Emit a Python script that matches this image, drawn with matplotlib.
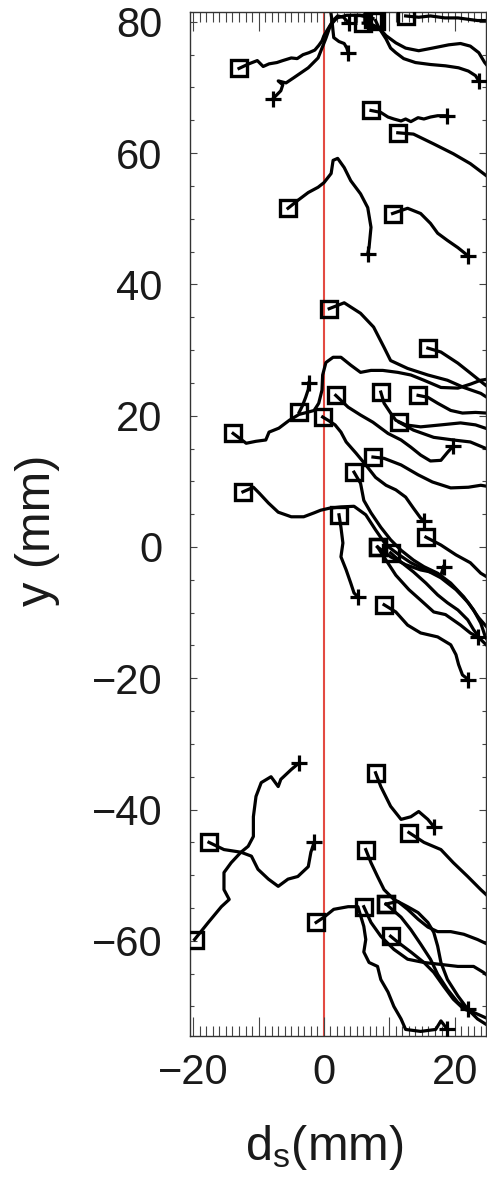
import matplotlib
matplotlib.use('Agg')
import matplotlib.pyplot as plt
from matplotlib.ticker import MultipleLocator, FuncFormatter

plt.rcParams['font.family'] = ['Liberation Sans', 'DejaVu Sans']
plt.rcParams['mathtext.fontset'] = 'custom'
plt.rcParams['mathtext.rm'] = 'Liberation Sans'
plt.rcParams['mathtext.it'] = 'Liberation Sans:italic'

# trajectories (d_s, y) in mm: start = square, end = plus
t01 = [(-13.0, 72.9), (-11.5, 73.6), (-10.2, 74.1), (-9.3, 73.2), (-8.4, 73.6), (-7.2, 73.8),
       (-6.3, 74.1), (-5.0, 74.5), (-4.1, 74.4), (-3.2, 75.0), (-2.3, 75.3), (-1.4, 75.7),
       (-0.8, 76.4), (-0.3, 77.1), (0.0, 77.9), (0.6, 78.9), (1.4, 80.2), (2.1, 80.9),
       (3.0, 80.7), (3.8, 79.8)]
t02 = [(7.5, 80.5), (5.5, 81.0), (3.5, 81.0), (2.0, 80.6), (1.0, 79.5), (0.3, 77.5),
       (-0.3, 76.0), (-0.9, 74.5), (-2.4, 73.0), (-4.6, 71.5), (-5.8, 70.7), (-7.0, 71.0),
       (-6.3, 70.4), (-6.6, 69.5), (-7.8, 68.3)]
t03 = [(0.8, 83.0), (1.2, 80.5), (1.4, 78.5), (1.5, 77.6), (2.3, 77.0), (3.1, 76.7),
       (3.5, 76.0), (3.7, 75.3)]
t04 = [(6.0, 79.8), (6.9, 79.8), (8.4, 79.1), (9.5, 77.4), (10.2, 76.0), (11.0, 75.3),
       (12.2, 74.4), (14.0, 73.8), (16.3, 73.5), (18.6, 73.3), (20.6, 73.0), (22.1, 72.5),
       (23.2, 71.8), (23.7, 71.0)]
t05 = [(7.9, 80.2), (8.4, 79.1), (9.5, 77.9), (11.0, 76.8), (12.5, 76.0), (14.5, 75.6),
       (16.6, 76.0), (19.1, 76.5), (20.9, 76.7), (22.4, 76.3), (23.7, 75.3), (24.6, 73.8),
       (26.5, 71.5)]
t06 = [(12.5, 80.9), (14.5, 80.7), (16.3, 80.9), (18.5, 80.6), (20.5, 80.6), (23.5, 80.2),
       (26.5, 80.2)]
t07 = [(7.2, 66.5), (8.7, 66.2), (9.8, 65.5), (10.7, 65.2), (11.8, 64.9), (12.5, 65.2),
       (13.3, 64.8), (14.4, 65.4), (15.3, 65.2), (16.3, 65.5), (17.4, 65.7), (18.9, 65.7)]
t08 = [(11.3, 63.1), (13.7, 62.9), (16.8, 61.4), (19.8, 59.9), (22.4, 58.4), (24.4, 56.9),
       (26.5, 55.3)]
t09 = [(-5.5, 51.6), (-4.0, 52.8), (-2.4, 54.0), (-0.9, 54.8), (0.0, 55.5), (1.1, 56.9),
       (1.4, 58.9), (2.1, 59.2), (3.1, 57.8), (4.1, 55.8), (5.6, 53.8), (6.7, 51.7),
       (7.2, 48.7), (6.9, 45.6), (6.7, 44.7)]
t10 = [(10.5, 50.8), (12.8, 51.6), (14.8, 50.8), (16.3, 49.3), (17.4, 47.8), (18.9, 46.7),
       (20.5, 45.6), (22.0, 44.4)]
t11 = [(0.8, 36.3), (3.1, 37.2), (5.6, 35.6), (7.6, 33.5), (9.2, 30.4), (10.2, 28.4),
       (12.8, 27.2), (15.9, 26.2), (18.9, 25.4), (21.4, 24.3), (24.0, 23.4), (26.5, 21.8)]
t12 = [(15.9, 30.3), (17.9, 29.7), (20.5, 28.0), (22.4, 26.5), (24.4, 24.9), (26.5, 23.3)]
t13 = [(-13.9, 17.3), (-11.9, 15.8), (-10.4, 16.1), (-8.9, 16.3), (-8.4, 17.5), (-6.9, 18.1),
       (-5.3, 19.3), (-3.8, 20.2), (-2.6, 20.5), (-1.5, 20.8), (-0.8, 21.9), (-0.3, 23.9),
       (-0.2, 26.2), (0.3, 28.1), (1.4, 28.9), (2.6, 28.9), (4.1, 27.7), (5.6, 26.6),
       (7.2, 26.9), (9.0, 26.9), (11.3, 26.6), (13.3, 26.2), (15.3, 25.4), (17.9, 24.3),
       (20.5, 24.2), (22.4, 24.8), (24.0, 25.4), (26.5, 25.8)]
t14 = [(-3.8, 20.5), (-3.3, 21.5), (-2.8, 22.8), (-2.4, 24.0), (-2.3, 25.0)]
t15 = [(4.6, 11.4), (5.6, 9.7), (6.1, 7.1), (7.2, 5.2), (8.7, 3.0), (10.2, 1.1), (11.8, -0.5),
       (13.7, -2.0), (15.3, -3.0), (17.4, -4.0), (19.4, -5.5), (21.4, -7.6), (22.9, -9.6),
       (24.0, -11.6), (24.7, -13.7), (26.5, -16.5)]
t16 = [(7.5, 13.7), (9.2, 13.5), (11.8, 12.5), (14.4, 11.0), (16.6, 9.9), (19.4, 9.0),
       (22.1, 9.1), (24.0, 9.4), (26.5, 9.0)]
t17 = [(1.8, 23.1), (3.7, 21.3), (5.6, 20.1), (7.5, 19.0), (9.8, 17.3), (11.8, 16.3),
       (13.3, 15.2), (14.8, 14.0), (16.3, 13.1), (17.9, 13.2), (18.9, 14.4), (19.8, 15.4)]
t18 = [(8.7, 23.6), (9.2, 21.9), (10.2, 20.4), (11.0, 19.3), (12.5, 18.6), (14.8, 18.3),
       (17.9, 18.6), (20.9, 18.9), (23.2, 18.6), (26.5, 17.5)]
t19 = [(14.4, 23.1), (15.9, 22.8), (17.4, 21.9), (19.4, 20.8), (21.2, 20.4), (23.2, 20.5),
       (26.5, 20.3)]
t20 = [(11.5, 19.0), (13.7, 17.8), (16.8, 16.7), (19.8, 16.3), (22.4, 16.0), (26.5, 14.3)]
t21 = [(-12.4, 8.4), (-10.8, 9.1), (-9.9, 8.2), (-8.5, 6.7), (-7.0, 5.3), (-5.0, 4.6),
       (-3.1, 4.6), (-1.5, 5.2), (-0.5, 5.6), (0.8, 5.9), (2.6, 6.1), (4.6, 6.2), (6.4, 4.9),
       (7.9, 2.6), (9.5, 0.3), (11.5, -1.2), (13.3, -2.4), (15.6, -3.5), (17.9, -4.7),
       (20.2, -6.5), (22.1, -8.5), (23.7, -10.8), (26.5, -14.0)]
t22 = [(2.3, 4.9), (2.6, 3.0), (2.9, 0.6), (2.6, -1.5), (3.4, -3.5), (4.1, -5.5), (4.6, -7.0),
       (5.2, -7.6)]
t23 = [(-0.2, 19.8), (0.8, 19.2), (1.7, 18.6), (2.6, 17.5), (3.4, 16.0), (4.9, 14.3),
       (6.4, 12.5), (7.9, 10.6), (9.5, 9.4), (11.0, 8.7), (12.5, 7.6), (13.7, 5.9),
       (14.8, 4.4), (15.3, 4.0)]
t24 = [(15.6, 1.5), (17.9, 0.3), (20.2, -1.2), (22.4, -2.4), (24.0, -4.0), (26.5, -5.5)]
t25 = [(8.2, 0.0), (10.2, -1.5), (12.5, -2.7), (14.8, -3.5), (16.3, -3.8), (17.9, -4.3),
       (18.3, -3.0)]
t26 = [(10.2, -0.9), (11.8, -2.3), (13.7, -3.8), (15.6, -5.5), (17.4, -7.3), (18.9, -8.5),
       (20.5, -9.6), (22.0, -11.1), (22.9, -12.6), (24.0, -14.1), (26.5, -16.5)]
t27 = [(8.2, 0.0), (9.5, -2.0), (11.0, -4.3), (13.0, -6.5), (14.8, -8.1), (16.8, -9.9),
       (18.6, -10.3), (20.9, -11.9), (22.4, -13.1), (23.5, -13.7)]
t28 = [(9.2, -8.8), (11.0, -9.9), (12.8, -11.9), (14.8, -13.1), (17.4, -13.7), (19.4, -14.9),
       (20.2, -16.4), (20.6, -17.9), (21.2, -19.5), (22.1, -20.2)]
t29 = [(-19.8, -59.8), (-17.7, -57.2), (-15.7, -54.8), (-14.5, -53.7), (-15.3, -52.2),
       (-15.3, -49.6), (-14.2, -48.1), (-12.7, -46.5), (-11.6, -45.6), (-10.8, -44.1),
       (-10.8, -41.1), (-10.4, -38.0), (-9.6, -35.9), (-8.1, -35.0), (-7.0, -36.5),
       (-6.6, -35.4), (-5.0, -33.9), (-3.8, -32.9)]
t30 = [(-17.6, -45.0), (-15.3, -46.1), (-12.7, -46.5), (-11.1, -47.1), (-10.1, -49.1),
       (-8.5, -50.6), (-7.0, -51.7), (-5.5, -50.6), (-4.0, -50.2), (-2.4, -48.7),
       (-2.0, -46.5), (-1.5, -45.0)]
t31 = [(7.9, -34.4), (8.7, -36.5), (10.2, -39.5), (11.8, -41.5), (13.3, -41.1), (14.5, -40.3),
       (15.9, -41.5), (16.8, -42.6)]
t32 = [(13.0, -43.5), (15.3, -45.0), (17.9, -46.1), (19.8, -48.1), (22.0, -50.2),
       (24.0, -52.2), (26.5, -54.5)]
t33 = [(6.4, -46.1), (7.2, -48.1), (8.2, -50.2), (9.2, -52.2), (10.7, -53.7), (12.8, -54.8),
       (14.4, -55.7), (15.9, -57.2), (16.8, -58.7), (17.4, -60.8), (17.9, -63.3),
       (18.9, -65.9), (20.5, -68.4), (22.0, -70.4), (23.5, -71.9), (26.5, -73.8)]
t34 = [(-1.2, -57.2), (0.0, -56.4), (1.5, -55.2), (3.7, -54.8), (5.2, -54.8), (6.1, -57.8),
       (6.4, -59.8), (6.1, -61.7), (6.9, -63.3), (8.2, -63.9), (8.7, -65.9), (9.8, -67.8),
       (10.7, -70.0), (11.8, -71.9), (12.5, -73.5), (14.8, -73.8), (17.1, -73.5),
       (17.9, -72.2), (18.9, -73.5)]
t35 = [(6.1, -54.8), (7.2, -57.2), (8.7, -59.3), (10.7, -61.3), (12.8, -62.8), (15.3, -63.3),
       (17.9, -63.6), (20.5, -63.9), (22.9, -63.9), (24.4, -64.8), (26.5, -66.5)]
t36 = [(9.5, -54.4), (11.3, -54.0), (12.8, -55.2), (14.4, -56.7), (15.9, -57.9), (17.4, -58.6),
       (19.4, -58.6), (21.4, -59.0), (23.5, -59.8), (26.5, -61.2)]
t37 = [(9.5, -54.4), (11.8, -56.4), (13.3, -58.3), (14.8, -60.5), (16.3, -62.8), (17.4, -65.1),
       (18.9, -67.4), (20.5, -69.4), (22.0, -70.4)]
t38 = [(10.2, -59.3), (11.3, -60.2), (13.3, -61.7), (15.3, -63.3), (16.8, -64.8), (18.3, -66.9),
       (19.8, -68.9), (21.4, -70.4), (22.9, -70.9), (26.5, -72.5)]

tracks = [t01, t02, t03, t04, t05, t06, t07, t08, t09, t10, t11, t12, t13, t14, t15, t16,
          t17, t18, t19, t20, t21, t22, t23, t24, t25, t26, t27, t28, t29, t30, t31, t32,
          t33, t34, t35, t36, t37, t38]

x_ticks = [-20, 0, 20]
y_ticks = [-60, -40, -20, 0, 20, 40, 60, 80]

W, H = 487, 1178
fig = plt.figure(figsize=(W / 100, H / 100), dpi=100)
ax = fig.add_axes([190 / W, 1 - 1036 / H, 296 / W, 1024 / H])

ax.axvline(0, color='#e34a42', lw=1.5, zorder=1)

for tr in tracks:
    xs = [p[0] for p in tr]
    ys = [p[1] for p in tr]
    ax.plot(xs, ys, color='black', lw=2.3, zorder=2, solid_joinstyle='round')
    ax.plot(xs[0], ys[0], marker='s', ms=11.5, mfc='none', mec='black', mew=2.4, zorder=3)
    ax.plot(xs[-1], ys[-1], marker='+', ms=11, mec='black', mew=2.3, zorder=3)

ax.set_xlim(-20.5, 24.8)
ax.set_ylim(-74.5, 81.5)


def fmt(v, pos, shown):
    if round(v) in shown:
        return f'{v:.0f}'.replace('-', '\u2212')
    return ''


ax.xaxis.set_major_locator(MultipleLocator(10))
ax.xaxis.set_minor_locator(MultipleLocator(1))
ax.xaxis.set_major_formatter(FuncFormatter(lambda v, p: fmt(v, p, x_ticks)))
ax.yaxis.set_major_locator(MultipleLocator(20))
ax.yaxis.set_minor_locator(MultipleLocator(5))
ax.yaxis.set_major_formatter(FuncFormatter(lambda v, p: fmt(v, p, y_ticks)))

ax.tick_params(which='both', direction='in', top=True, right=True, colors='#444444',
               labelcolor='#1a1a1a', labelsize=30, width=0.8)
ax.tick_params(axis='x', which='major', length=14, pad=12)
ax.tick_params(axis='x', which='minor', length=7)
ax.tick_params(axis='y', which='major', length=5, pad=20)
ax.tick_params(axis='y', which='minor', length=3)
for s in ax.spines.values():
    s.set_color('#333333')
    s.set_linewidth(1.0)

fig.text(324 / W, 1 - 1160 / H, r'd$_{\rm s}$(mm)', fontsize=35, color='#1a1a1a',
         ha='center', va='baseline')
fig.text(50 / W, 1 - 530 / H, 'y (mm)', fontsize=35, color='#1a1a1a', rotation=90,
         ha='center', va='baseline', rotation_mode='anchor')

fig.savefig('out.png', dpi=100)
